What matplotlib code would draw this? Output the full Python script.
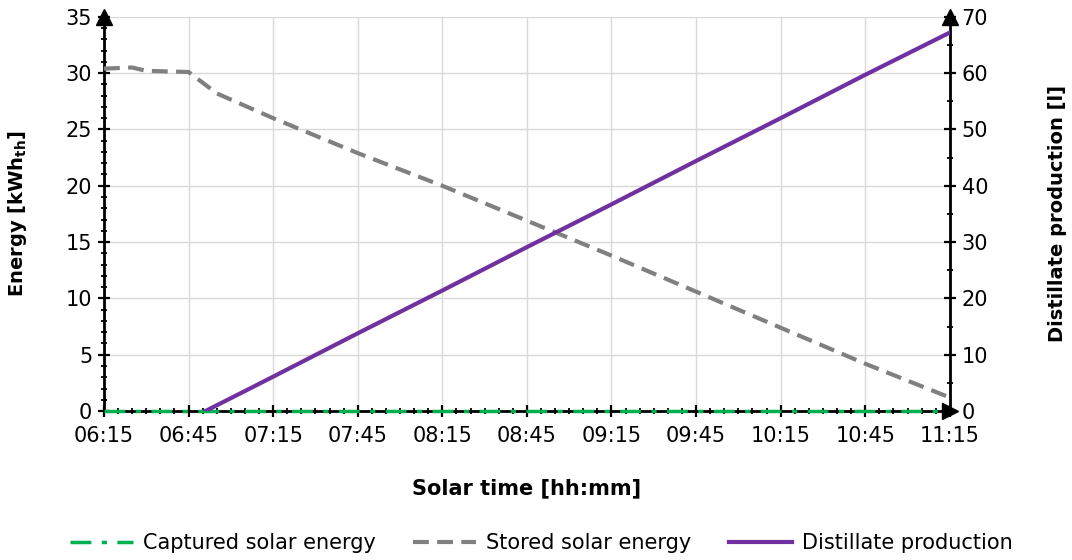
import matplotlib
matplotlib.use("Agg")
import matplotlib.pyplot as plt
import matplotlib.dates as mdates
import pandas as pd

plt.rcParams['font.family'] = ['DejaVu Sans']

day = "2020-01-01 "
captured_t = ["06:15", "07:15", "08:15", "09:15", "10:15", "11:15"]
captured_v = [0, 0, 0, 0, 0, 0]

stored_t = ["06:15", "06:25", "06:30", "06:45", "06:55", "07:15", "07:45", "08:15",
            "08:45", "09:15", "09:45", "10:15", "10:45", "11:15"]
stored_v = [30.4, 30.5, 30.2, 30.1, 28.2, 26.0, 22.9, 20.0, 16.9, 13.8, 10.6, 7.4, 4.2, 1.2]

distil_t = ["06:51", "07:15", "07:45", "08:15", "08:45", "09:15", "09:45", "10:15", "10:45", "11:15"]
distil_v = [0, 6.1, 13.8, 21.4, 29.1, 36.7, 44.4, 52.0, 59.7, 67.2]

xticks = ["06:15", "06:45", "07:15", "07:45", "08:15", "08:45", "09:15", "09:45", "10:15", "10:45", "11:15"]

def T(lst):
    return pd.to_datetime([day + s for s in lst])

fig = plt.figure(figsize=(10.72, 5.60), dpi=100)
ax = fig.add_axes([0.097, 0.266, 0.789, 0.704])
ax2 = ax.twinx()

green = "#00b050"
gray = "#808080"
purple = "#7030a0"

l1, = ax.plot(T(captured_t), captured_v, color=green, lw=2.5, dashes=(6, 3, 1.5, 3), zorder=5, clip_on=False)
l2, = ax.plot(T(stored_t), stored_v, color=gray, lw=3, dashes=(3.8, 2.0), zorder=4)
l3, = ax2.plot(T(distil_t), distil_v, color=purple, lw=3, zorder=4)

xt = T(xticks)
ax.set_xlim(xt[0], xt[-1])
ax.set_ylim(0, 35)
ax2.set_ylim(0, 70)
ax.set_xticks(xt)
ax.xaxis.set_major_formatter(mdates.DateFormatter("%H:%M"))
ax.xaxis.set_minor_locator(mdates.MinuteLocator(byminute=range(0, 60, 5)))
ax.set_yticks(range(0, 36, 5))
ax.yaxis.set_minor_locator(matplotlib.ticker.MultipleLocator(1))
ax2.set_yticks(range(0, 71, 10))
ax2.yaxis.set_minor_locator(matplotlib.ticker.MultipleLocator(5))

ax.grid(True, which='major', color="#d9d9d9", lw=1)
ax.set_axisbelow(True)

for a in (ax, ax2):
    for s in a.spines.values():
        s.set_visible(False)
    a.tick_params(which='major', direction='inout', length=9, width=1.6, labelsize=15, color='black', pad=4)
    a.tick_params(which='minor', direction='inout', length=5, width=1.3, color='black')

ax.spines['left'].set_visible(True)
ax.spines['bottom'].set_visible(True)
ax.spines['left'].set_linewidth(2)
ax.spines['bottom'].set_linewidth(2)
ax2.spines['right'].set_visible(True)
ax2.spines['right'].set_linewidth(2)
ax.tick_params(axis='x', pad=6)

# arrows
ax.plot([0], [1], marker='^', color='black', markersize=11, transform=ax.transAxes, clip_on=False, zorder=10)
ax.plot([1], [1], marker='^', color='black', markersize=11, transform=ax.transAxes, clip_on=False, zorder=10)
ax.plot([1], [0], marker='>', color='black', markersize=11, transform=ax.transAxes, clip_on=False, zorder=10)

ax.set_ylabel("Energy [kWh$_{\\mathbf{th}}$]", fontsize=14, fontweight='bold')
ax2.set_ylabel("Distillate production [l]", fontsize=14, fontweight='bold')
ax.set_xlabel("Solar time [hh:mm]", fontsize=15, fontweight='bold')
ax.yaxis.set_label_coords(-0.0887, 0.5)
ax2.yaxis.set_label_coords(1.116, 0.5)
ax.xaxis.set_label_coords(0.5, -0.170)

fig.legend([l1, l2, l3], ["Captured solar energy", "Stored solar energy", "Distillate production"],
           loc='center', bbox_to_anchor=(0.505, 0.03), ncol=3, frameon=False, fontsize=15,
           handlelength=3.0, columnspacing=1.8, handletextpad=0.5)

fig.savefig("out.png", dpi=100)
